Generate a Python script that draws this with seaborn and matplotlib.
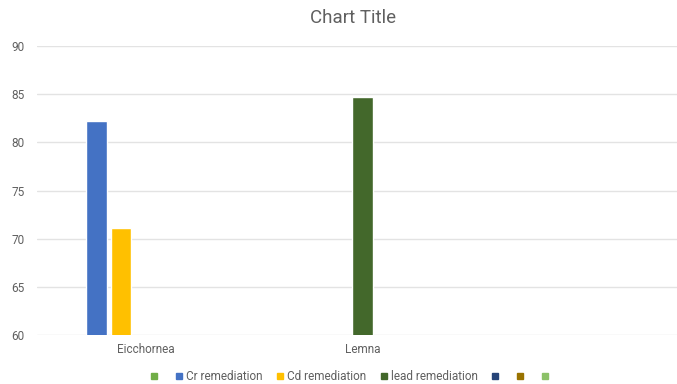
import pandas as pd
import matplotlib
matplotlib.use('Agg')
import matplotlib.pyplot as plt
from matplotlib.lines import Line2D
import seaborn as sns

categories = ['Eicchornea', 'Lemna', '']
series_keys = ['s1', 'cr', 'cd', 'lead', 's5', 's6', 's7']
series_labels = ['', 'Cr remediation', 'Cd remediation', 'lead remediation', '', '', '']
series_colors = ['#70AD47', '#4472C4', '#FFC000', '#43682B', '#264478', '#997300', '#8CC168']

cr_values = [82.2, None, None]
cd_values = [71.1, None, None]
lead_values = [None, 84.7, None]

rows = []
for key, vals in [('cr', cr_values), ('cd', cd_values), ('lead', lead_values)]:
    for cat, v in zip(categories, vals):
        if v is not None:
            rows.append({'plant': cat, 'series': key, 'value': v})
df = pd.DataFrame(rows)

sns.set_style('white')
plt.rcParams['font.family'] = ['Roboto', 'DejaVu Sans']

fig = plt.figure(figsize=(6.77, 3.84), dpi=100)
ax = fig.add_axes([37 / 677, 1 - 335 / 384, 1 - 37 / 677, (335 - 46) / 384])

sns.barplot(data=df, x='plant', y='value', hue='series', order=categories,
            hue_order=series_keys, palette=dict(zip(series_keys, series_colors)),
            width=0.79, gap=0.15, errorbar=None, legend=False, ax=ax,
            saturation=1)

ax.set_ylim(60, 90)
ax.set_xlim(-0.5, 2.45)
ax.set_yticks([60, 65, 70, 75, 80, 85, 90])
ax.yaxis.grid(True, color='#E3E3E3', linewidth=1)
ax.set_axisbelow(True)
for s in ax.spines.values():
    s.set_visible(False)
ax.tick_params(axis='both', length=0, colors='#606060', labelsize=8.5)
ax.tick_params(axis='y', pad=9)
ax.tick_params(axis='x', pad=6)
ax.set_xlabel('')
ax.set_ylabel('')

fig.text(353 / 677, 1 - 18 / 384, 'Chart Title', ha='center', va='center',
         fontsize=13.5, color='#606060')

handles = [Line2D([0], [0], marker='s', linestyle='none', markersize=5,
                  markerfacecolor=c, markeredgecolor=c) for c in series_colors]
fig.legend(handles, series_labels, loc='center', bbox_to_anchor=(350 / 677, 1 - 377 / 384),
           ncol=7, frameon=False, fontsize=8.5, labelcolor='#606060',
           handletextpad=0.1, columnspacing=1.0, handlelength=1.0)

fig.savefig('out.png', dpi=100)
